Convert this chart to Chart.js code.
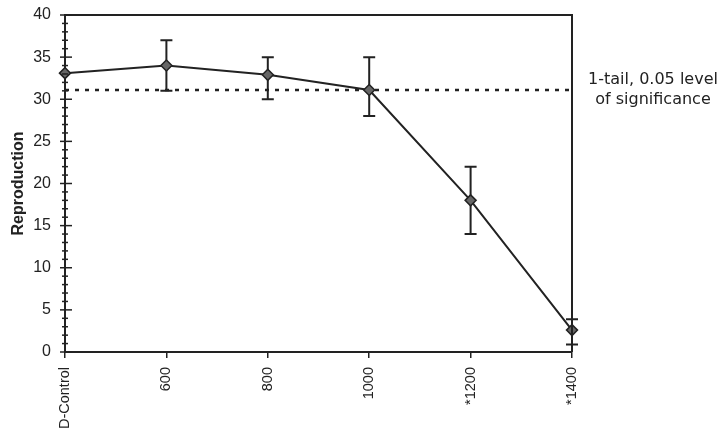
<!DOCTYPE html>
<html>
<head>
<meta charset="utf-8">
<script src="https://cdn.jsdelivr.net/npm/chart.js@4.4.1/dist/chart.umd.min.js"></script>
<style>
  body { margin: 0; background: #fff; }
  canvas { display: block; }
</style>
</head>
<body>
<canvas id="chart" width="721" height="433"></canvas>
<script>
// values
const categories = ['D-Control', '600', '800', '1000', '*1200', '*1400'];
const reproduction = [33.1, 34, 32.9, 31.1, 18, 2.6];
const errHigh = [null, 37, 35, 35, 22, 3.9];
const errLow = [null, 31, 30, 28, 14, 0.9];
const significance = [31.1, 31.1, 31.1, 31.1, 31.1, 31.1];
const sigLabel = ['1-tail, 0.05 level', 'of significance'];

const ink = '#222';
const fontFamily = '"Liberation Sans", Arial, sans-serif';
const wideFamily = '"DejaVu Sans", Verdana, sans-serif';

// error bars for the first dataset
const errorBars = {
  id: 'errorBars',
  beforeDatasetsDraw(chart) {
    const ctx = chart.ctx;
    const x = chart.scales.x, y = chart.scales.y;
    ctx.save();
    ctx.strokeStyle = ink;
    ctx.lineWidth = 2;
    errHigh.forEach(function(hi, i) {
      if (hi === null) return;
      const px = x.getPixelForValue(i);
      const top = y.getPixelForValue(hi);
      const bot = y.getPixelForValue(errLow[i]);
      ctx.beginPath();
      ctx.moveTo(px, top); ctx.lineTo(px, bot);
      ctx.moveTo(px - 6, top); ctx.lineTo(px + 6, top);
      ctx.moveTo(px - 6, bot); ctx.lineTo(px + 6, bot);
      ctx.stroke();
    });
    ctx.restore();
  }
};

// frame, crossing y ticks and the side note
const frame = {
  id: 'frame',
  afterDraw(chart) {
    const ctx = chart.ctx;
    const a = chart.chartArea;
    const y = chart.scales.y;
    ctx.save();
    ctx.strokeStyle = ink;
    ctx.lineWidth = 2;
    ctx.beginPath();
    ctx.moveTo(a.left, a.top); ctx.lineTo(a.right, a.top); ctx.lineTo(a.right, a.bottom);
    ctx.stroke();

    ctx.lineWidth = 1.5;
    for (let v = 0; v <= 40; v++) {
      const py = y.getPixelForValue(v);
      const major = v % 5 === 0;
      ctx.beginPath();
      ctx.moveTo(a.left - (major ? 5 : 3), py);
      ctx.lineTo(a.left + (major ? 7 : 3), py);
      ctx.stroke();
    }

    const sy = y.getPixelForValue(significance[0]);
    ctx.fillStyle = ink;
    ctx.font = '16px ' + wideFamily;
    ctx.textAlign = 'center';
    ctx.textBaseline = 'middle';
    ctx.fillText(sigLabel[0], a.right + 81, sy - 10);
    ctx.fillText(sigLabel[1], a.right + 81, sy + 10);
    ctx.restore();
  }
};

new Chart('chart', {
  type: 'line',
  data: {
    labels: categories,
    datasets: [{
      data: reproduction,
      borderColor: ink,
      borderWidth: 2,
      pointStyle: 'rectRot',
      pointRadius: 5.5,
      pointBackgroundColor: '#666',
      pointBorderColor: ink,
      pointBorderWidth: 1.5,
      tension: 0
    }, {
      data: significance,
      borderColor: ink,
      borderWidth: 2.5,
      borderDash: [4, 6],
      pointRadius: 0,
      tension: 0
    }]
  },
  options: {
    responsive: false,
    animation: false,
    layout: { padding: { top: 15, right: 149, left: 0, bottom: 0 } },
    plugins: { legend: { display: false }, tooltip: { enabled: false } },
    scales: {
      x: {
        offset: false,
        grid: { display: true, drawOnChartArea: false, drawTicks: true, tickLength: 6, color: ink, lineWidth: 1.5 },
        border: { display: true, color: ink, width: 2 },
        ticks: { color: ink, font: { family: fontFamily, size: 14.5 }, minRotation: 90, maxRotation: 90, padding: 9, autoSkip: false },
        afterFit: function(scale) { scale.height = 81; }
      },
      y: {
        min: 0,
        max: 40,
        grid: { display: false, drawTicks: false },
        border: { display: true, color: ink, width: 2 },
        ticks: { stepSize: 5, color: ink, font: { family: fontFamily, size: 16 }, padding: 14 },
        title: { display: true, text: 'Reproduction', color: ink, font: { family: fontFamily, size: 16, weight: 'bold' }, padding: { top: 9 } },
        afterFit: function(scale) {
          scale.width = 65;
          scale.paddingTop = 0;
          scale.paddingBottom = 0;
        }
      }
    }
  },
  plugins: [errorBars, frame]
});
</script>
</body>
</html>
